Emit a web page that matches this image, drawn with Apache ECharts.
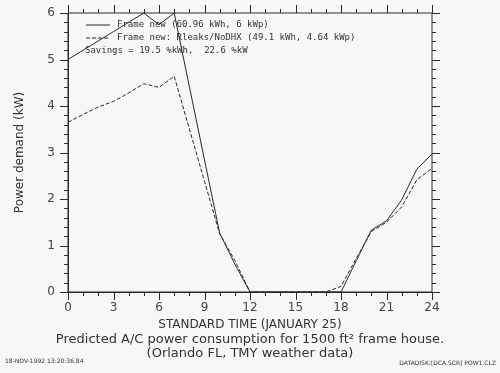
<!DOCTYPE html>
<html><head><meta charset="utf-8">
<script src="https://cdn.jsdelivr.net/npm/echarts@6/dist/echarts.min.js"></script>
<style>html,body{margin:0;padding:0;background:#f7f7f7}#c{width:500px;height:373px}</style>
</head><body><div id="c"></div>
<script>
var hours = [0,1,2,3,4,5,6,7,8,9,10,11,12,13,14,15,16,17,18,19,20,21,22,23,24];
var frameNew = [5.0,5.2,5.4,5.6,5.8,6.0,5.75,6.0,4.42,2.84,1.27,0.6,0,0,0,0,0,0,0,0.67,1.33,1.53,1.98,2.64,2.97];
var frameLeaks = [3.65,3.82,3.98,4.1,4.28,4.48,4.4,4.64,3.51,2.38,1.25,0.68,0,0,0,0,0,0,0.12,0.72,1.3,1.5,1.83,2.41,2.66];
var xTickLabels = [0,3,6,9,12,15,18,21,24];
var yTickLabels = [0,1,2,3,4,5,6];
var seriesNames = ['Frame new (60.96 kWh, 6 kWp)','Frame new: Rleaks/NoDHX (49.1 kWh, 4.64 kWp)'];
var savingsText = 'Savings = 19.5 %kWh,  22.6 %kW';
var xTitle = 'STANDARD TIME (JANUARY 25)';
var yTitle = 'Power demand (kW)';
var caption1 = 'Predicted A/C power consumption for 1500 ft\u00b2 frame house.';
var caption2 = '(Orlando FL, TMY weather data)';
var stampLeft = '18-NOV-1992 13:20:36.84';
var stampRight = 'DATADISK:[DCA.SCR] POW1.CLZ';

function pairs(v){ return hours.map(function(h,i){ return [h, v[i]]; }); }
var ink = '#2a2a2a';
var font = 'DejaVu Sans';
var xMin = xTickLabels[0], xMax = xTickLabels[xTickLabels.length-1];
var yMin = yTickLabels[0], yMax = yTickLabels[yTickLabels.length-1];

// tick positions: [x, y, length, kind] kind 0 = x-axis tick, 1 = y-axis tick
var tickData = [];
for (var h = xMin; h <= xMax; h++) tickData.push([h, yMin, (h % 3 === 0) ? 8 : 4, 0]);
for (var k = 0; k <= (yMax - yMin) * 5; k++) tickData.push([xMin, yMin + k / 5, (k % 5 === 0) ? 8 : 4, 1]);

function renderTick(params, api){
  var len = api.value(2), kind = api.value(3);
  var st = {stroke: ink, lineWidth: 1};
  if (kind === 0) {
    var b = api.coord([api.value(0), yMin]), t = api.coord([api.value(0), yMax]);
    var x = Math.round(b[0]) + 0.5;
    return {type:'group', children:[
      {type:'line', shape:{x1:x, y1:b[1], x2:x, y2:b[1]+len}, style:st},
      {type:'line', shape:{x1:x, y1:t[1], x2:x, y2:t[1]-len}, style:st}
    ]};
  } else {
    var l = api.coord([xMin, api.value(1)]), r = api.coord([xMax, api.value(1)]);
    var y = Math.round(l[1]) + 0.5;
    return {type:'group', children:[
      {type:'line', shape:{x1:l[0], y1:y, x2:l[0]-len, y2:y}, style:st},
      {type:'line', shape:{x1:r[0], y1:y, x2:r[0]+len, y2:y}, style:st}
    ]};
  }
}

var chart = echarts.init(document.getElementById('c'));
chart.setOption({
  backgroundColor:'#f7f7f7',
  animation:false,
  grid:{left:68, right:68, top:13, bottom:81, show:true, borderColor:ink, borderWidth:1, backgroundColor:'transparent'},
  xAxis:{type:'value', min:xMin, max:xMax, interval:3,
    axisLine:{show:true, onZero:false, lineStyle:{color:ink,width:1}},
    axisTick:{show:false}, splitLine:{show:false},
    axisLabel:{show:true, color:'#444', fontFamily:font, fontSize:12, margin:10},
    name:xTitle, nameLocation:'middle', nameGap:27, nameTextStyle:{color:'#333', fontFamily:font, fontSize:12}},
  yAxis:{type:'value', min:yMin, max:yMax, interval:1,
    axisLine:{show:true, onZero:false, lineStyle:{color:ink,width:1}},
    axisTick:{show:false}, splitLine:{show:false},
    axisLabel:{show:true, color:'#444', fontFamily:font, fontSize:12, margin:13},
    name:yTitle, nameLocation:'middle', nameGap:42, nameTextStyle:{color:'#333', fontFamily:font, fontSize:12}},
  series:[
    {type:'custom', renderItem:renderTick, data:tickData, clip:false, silent:true, z:1},
    {name:seriesNames[0], type:'line', data:pairs(frameNew), showSymbol:false, symbol:'none', lineStyle:{color:ink,width:1}, z:3},
    {name:seriesNames[1], type:'line', data:pairs(frameLeaks), showSymbol:false, symbol:'none', lineStyle:{color:ink,width:1,type:[4,2]}, z:3}
  ],
  graphic:[
    {type:'line', shape:{x1:86,y1:25,x2:110,y2:25}, style:{stroke:ink,lineWidth:1}},
    {type:'text', left:117, top:20, style:{text:seriesNames[0], font:'9px "DejaVu Sans Mono"', fill:'#333'}},
    {type:'line', shape:{x1:86,y1:38,x2:110,y2:38}, style:{stroke:ink,lineWidth:1,lineDash:[4,2]}},
    {type:'text', left:117, top:33, style:{text:seriesNames[1], font:'9px "DejaVu Sans Mono"', fill:'#333'}},
    {type:'text', left:85, top:46, style:{text:savingsText, font:'9px "DejaVu Sans Mono"', fill:'#333'}},
    {type:'text', left:'center', top:333, style:{text:caption1, font:'13px "DejaVu Sans"', fill:'#333'}},
    {type:'text', left:'center', top:347, style:{text:caption2, font:'13px "DejaVu Sans"', fill:'#333'}},
    {type:'text', left:5, top:358, style:{text:stampLeft, font:'6px "DejaVu Sans"', fill:'#333'}},
    {type:'text', right:4, top:360, style:{text:stampRight, font:'6px "DejaVu Sans"', fill:'#333'}}
  ]
});
</script></body></html>
